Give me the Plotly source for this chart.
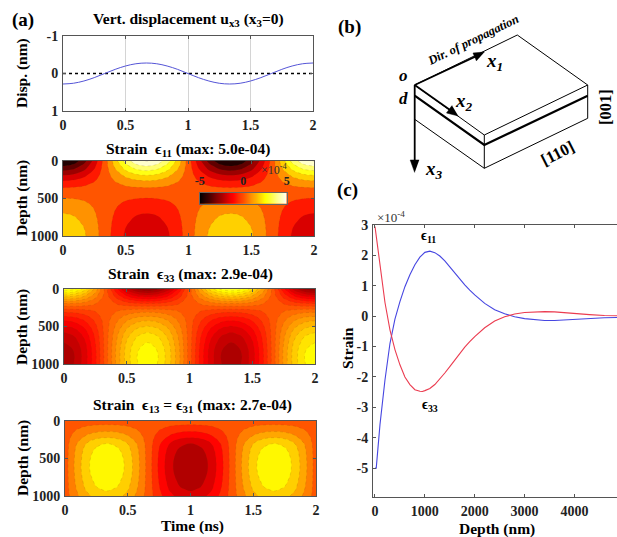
import plotly.graph_objects as go

W, H = 617, 537
SERIF = "Liberation Serif"
INK = "#222222"
AX = "#555555"

# ---------- data ----------
time_disp = [0, .083, .167, .25, .333, .417, .5, .583, .667, .75, .833, .917, 1,
             1.083, 1.167, 1.25, 1.333, 1.417, 1.5, 1.583, 1.667, 1.75, 1.833, 1.917, 2]
disp = [.28, .26, .2, .11, 0, -.11, -.2, -.26, -.28, -.26, -.2, -.11, 0,
        .11, .2, .26, .28, .26, .2, .11, 0, -.11, -.2, -.26, -.28]
disp_zero = [0, 0]
disp_zero_t = [0, 2]

time_map = time_disp
depth_map = [0, 100, 200, 300, 400, 500, 600, 700, 800, 900, 1000]

e11_map = [
    [-5, -4.62, -3.54, -1.91, 0, 1.91, 3.54, 4.62, 5, 4.62, 3.54, 1.91, 0, -1.91, -3.54, -4.62, -5, -4.62, -3.54, -1.91, 0, 1.91, 3.54, 4.62, 5],
    [-3.57, -3.3, -2.52, -1.37, 0, 1.37, 2.52, 3.3, 3.57, 3.3, 2.52, 1.37, 0, -1.37, -2.52, -3.3, -3.57, -3.3, -2.52, -1.37, 0, 1.37, 2.52, 3.3, 3.57],
    [-2.1, -1.94, -1.48, -.8, 0, .8, 1.48, 1.94, 2.1, 1.94, 1.48, .8, 0, -.8, -1.48, -1.94, -2.1, -1.94, -1.48, -.8, 0, .8, 1.48, 1.94, 2.1],
    [-.9, -.83, -.64, -.34, 0, .34, .64, .83, .9, .83, .64, .34, 0, -.34, -.64, -.83, -.9, -.83, -.64, -.34, 0, .34, .64, .83, .9],
    [-.1, -.09, -.07, -.04, 0, .04, .07, .09, .1, .09, .07, .04, 0, -.04, -.07, -.09, -.1, -.09, -.07, -.04, 0, .04, .07, .09, .1],
    [.48, .44, .34, .18, 0, -.18, -.34, -.44, -.48, -.44, -.34, -.18, 0, .18, .34, .44, .48, .44, .34, .18, 0, -.18, -.34, -.44, -.48],
    [.97, .9, .69, .37, 0, -.37, -.69, -.9, -.97, -.9, -.69, -.37, 0, .37, .69, .9, .97, .9, .69, .37, 0, -.37, -.69, -.9, -.97],
    [1.36, 1.26, .96, .52, 0, -.52, -.96, -1.26, -1.36, -1.26, -.96, -.52, 0, .52, .96, 1.26, 1.36, 1.26, .96, .52, 0, -.52, -.96, -1.26, -1.36],
    [1.69, 1.56, 1.19, .65, 0, -.65, -1.19, -1.56, -1.69, -1.56, -1.19, -.65, 0, .65, 1.19, 1.56, 1.69, 1.56, 1.19, .65, 0, -.65, -1.19, -1.56, -1.69],
    [1.94, 1.79, 1.37, .74, 0, -.74, -1.37, -1.79, -1.94, -1.79, -1.37, -.74, 0, .74, 1.37, 1.79, 1.94, 1.79, 1.37, .74, 0, -.74, -1.37, -1.79, -1.94],
    [2.1, 1.94, 1.48, .8, 0, -.8, -1.48, -1.94, -2.1, -1.94, -1.48, -.8, 0, .8, 1.48, 1.94, 2.1, 1.94, 1.48, .8, 0, -.8, -1.48, -1.94, -2.1],
]
e33_map = [
    [2.95, 2.72, 2.09, 1.13, 0, -1.13, -2.09, -2.72, -2.95, -2.72, -2.09, -1.13, 0, 1.13, 2.09, 2.72, 2.95, 2.72, 2.09, 1.13, 0, -1.13, -2.09, -2.72, -2.95],
    [1.65, 1.52, 1.17, .63, 0, -.63, -1.17, -1.52, -1.65, -1.52, -1.17, -.63, 0, .63, 1.17, 1.52, 1.65, 1.52, 1.17, .63, 0, -.63, -1.17, -1.52, -1.65],
    [.45, .42, .32, .17, 0, -.17, -.32, -.42, -.45, -.42, -.32, -.17, 0, .17, .32, .42, .45, .42, .32, .17, 0, -.17, -.32, -.42, -.45],
    [-.45, -.42, -.32, -.17, 0, .17, .32, .42, .45, .42, .32, .17, 0, -.17, -.32, -.42, -.45, -.42, -.32, -.17, 0, .17, .32, .42, .45],
    [-1.1, -1.02, -.78, -.42, 0, .42, .78, 1.02, 1.1, 1.02, .78, .42, 0, -.42, -.78, -1.02, -1.1, -1.02, -.78, -.42, 0, .42, .78, 1.02, 1.1],
    [-1.6, -1.48, -1.14, -.61, 0, .61, 1.14, 1.48, 1.6, 1.48, 1.14, .61, 0, -.61, -1.14, -1.48, -1.6, -1.48, -1.14, -.61, 0, .61, 1.14, 1.48, 1.6],
    [-2, -1.85, -1.42, -.77, 0, .77, 1.42, 1.85, 2, 1.85, 1.42, .77, 0, -.77, -1.42, -1.85, -2, -1.85, -1.42, -.77, 0, .77, 1.42, 1.85, 2],
    [-2.25, -2.08, -1.6, -.86, 0, .86, 1.6, 2.08, 2.25, 2.08, 1.6, .86, 0, -.86, -1.6, -2.08, -2.25, -2.08, -1.6, -.86, 0, .86, 1.6, 2.08, 2.25],
    [-2.42, -2.24, -1.72, -.93, 0, .93, 1.72, 2.24, 2.42, 2.24, 1.72, .93, 0, -.93, -1.72, -2.24, -2.42, -2.24, -1.72, -.93, 0, .93, 1.72, 2.24, 2.42],
    [-2.47, -2.28, -1.75, -.95, 0, .95, 1.75, 2.28, 2.47, 2.28, 1.75, .95, 0, -.95, -1.75, -2.28, -2.47, -2.28, -1.75, -.95, 0, .95, 1.75, 2.28, 2.47],
    [-2.45, -2.26, -1.74, -.94, 0, .94, 1.74, 2.26, 2.45, 2.26, 1.74, .94, 0, -.94, -1.74, -2.26, -2.45, -2.26, -1.74, -.94, 0, .94, 1.74, 2.26, 2.45],
]
e13_map = [
    [0, 0, 0, 0, 0, 0, 0, 0, 0, 0, 0, 0, 0, 0, 0, 0, 0, 0, 0, 0, 0, 0, 0, 0, 0],
    [0, .23, .43, .55, .6, .55, .43, .23, 0, -.23, -.43, -.55, -.6, -.55, -.43, -.23, 0, .23, .43, .55, .6, .55, .43, .23, 0],
    [0, .51, .94, 1.23, 1.33, 1.23, .94, .51, 0, -.51, -.94, -1.23, -1.33, -1.23, -.94, -.51, 0, .51, .94, 1.23, 1.33, 1.23, .94, .51, 0],
    [0, .8, 1.49, 1.94, 2.1, 1.94, 1.49, .8, 0, -.8, -1.49, -1.94, -2.1, -1.94, -1.49, -.8, 0, .8, 1.49, 1.94, 2.1, 1.94, 1.49, .8, 0],
    [0, .94, 1.74, 2.26, 2.45, 2.26, 1.74, .94, 0, -.94, -1.74, -2.26, -2.45, -2.26, -1.74, -.94, 0, .94, 1.74, 2.26, 2.45, 2.26, 1.74, .94, 0],
    [0, 1, 1.86, 2.42, 2.62, 2.42, 1.86, 1, 0, -1, -1.86, -2.42, -2.62, -2.42, -1.86, -1, 0, 1, 1.86, 2.42, 2.62, 2.42, 1.86, 1, 0],
    [0, 1.03, 1.9, 2.48, 2.68, 2.48, 1.9, 1.03, 0, -1.03, -1.9, -2.48, -2.68, -2.48, -1.9, -1.03, 0, 1.03, 1.9, 2.48, 2.68, 2.48, 1.9, 1.03, 0],
    [0, 1, 1.86, 2.42, 2.62, 2.42, 1.86, 1, 0, -1, -1.86, -2.42, -2.62, -2.42, -1.86, -1, 0, 1, 1.86, 2.42, 2.62, 2.42, 1.86, 1, 0],
    [0, .94, 1.74, 2.26, 2.45, 2.26, 1.74, .94, 0, -.94, -1.74, -2.26, -2.45, -2.26, -1.74, -.94, 0, .94, 1.74, 2.26, 2.45, 2.26, 1.74, .94, 0],
    [0, .85, 1.58, 2.05, 2.22, 2.05, 1.58, .85, 0, -.85, -1.58, -2.05, -2.22, -2.05, -1.58, -.85, 0, .85, 1.58, 2.05, 2.22, 2.05, 1.58, .85, 0],
    [0, .71, 1.31, 1.71, 1.85, 1.71, 1.31, .71, 0, -.71, -1.31, -1.71, -1.85, -1.71, -1.31, -.71, 0, .71, 1.31, 1.71, 1.85, 1.71, 1.31, .71, 0],
]

cbar_values = [-5, -4.5, -4, -3.5, -3, -2.5, -2, -1.5, -1, -.5, 0, .5, 1, 1.5, 2, 2.5, 3, 3.5, 4, 4.5, 5]

depth_blue = [0, 25, 100, 200, 300, 400, 500, 600, 700, 800, 900, 1000, 1100, 1200, 1300, 1400, 1500,
              1600, 1700, 1800, 1900, 2000, 2200, 2400, 2600, 2800, 3000, 3200, 3400, 3600, 3800,
              4000, 4300, 4600, 4900]
e11_line = [-5, -5, -3.57, -2.1, -.9, -.1, .48, .97, 1.36, 1.69, 1.94, 2.1, 2.14, 2.09, 1.98, 1.82, 1.62,
            1.42, 1.22, 1.03, .86, .7, .42, .21, .08, -.02, -.08, -.12, -.14, -.14, -.12,
            -.1, -.07, -.05, -.04]
depth_red = [0, 50, 100, 200, 300, 400, 500, 600, 700, 800, 900, 950, 1000, 1100, 1200, 1300, 1400, 1500,
             1600, 1700, 1800, 1900, 2000, 2200, 2400, 2600, 2800, 3000, 3200, 3400, 3600, 3800,
             4000, 4300, 4600, 4900]
e33_line = [2.95, 2.3, 1.65, .45, -.45, -1.1, -1.6, -2, -2.25, -2.42, -2.47, -2.48, -2.45, -2.38, -2.25,
            -2.07, -1.87, -1.66, -1.44, -1.23, -1.02, -.84, -.67, -.38, -.16, -.02, .07, .12, .14, .15,
            .14, .11, .09, .05, .02, .01]

# schematic (panel b), in page pixels
box_thin = [
    ([414.7, 517.3, 587.7, 484.3, 414.7], [85, 35, 85, 135, 85]),
    ([414.7, 484.3, 587.7, 587.7], [119.3, 168.3, 118.3, 85]),
    ([484.3, 484.3], [135, 168.3]),
]
box_thick = ([414.7, 484.3, 587.7], [95.7, 145, 95.7])
axis_lines = [
    ([414.7, 480], [85, 54.5]),
    ([414.7, 455], [85, 113.5]),
    ([414.7, 414.7], [85, 162]),
]
arrow_heads = [
    ([484.5, 473, 476.5], [52, 53, 61]),
    ([458.3, 446.5, 452], [116, 113, 105.5]),
    ([414.7, 410.2, 419.2], [172.5, 160, 160]),
]

hot = [[0, "rgb(0,0,0)"], [.375, "rgb(255,0,0)"], [.75, "rgb(255,255,0)"], [1, "rgb(255,255,255)"]]


def hot_at(v):
    """MATLAB hot colour for a strain value in units of 1e-4, range -5..5."""
    u = min(1, max(0, (v + 5) / 10))
    r = min(1, u / .375)
    g = min(1, max(0, (u - .375) / .375))
    b = max(0, (u - .75) / .25)
    return f"rgb({r * 255:.0f},{g * 255:.0f},{b * 255:.0f})"


def hot_window(lo, hi, n=40):
    """Plotly stretches a contour colour scale over its levels, so cut it to that window."""
    return [[i / n, hot_at(lo + (hi - lo) * i / n)] for i in range(n + 1)]


fig = go.Figure()


def dom(x0, x1, y0, y1):
    return dict(x=[x0 / W, x1 / W], y=[1 - y1 / H, 1 - y0 / H])


tick_font = dict(family=SERIF, size=14, color=INK, weight=700)


def add_axes(n, box, xr, yr, xticks, xtext, yticks, ytext, mirror_y=True, grid=False):
    d = dom(*box)
    xa = dict(domain=d["x"], range=xr, tickmode="array", tickvals=xticks, ticktext=xtext,
              ticks="inside", ticklen=3, tickcolor=AX, tickwidth=1, showline=True, linecolor=AX,
              linewidth=1, mirror="allticks", showgrid=grid, gridcolor="#d4d4d4", gridwidth=1,
              zeroline=False, tickfont=tick_font, anchor=f"y{n}", ticklabelstandoff=1)
    ya = dict(domain=d["y"], range=yr, tickmode="array", tickvals=yticks, ticktext=ytext,
              ticks="inside", ticklen=3, tickcolor=AX, tickwidth=1, showline=True, linecolor=AX,
              linewidth=1, mirror="allticks" if mirror_y else False, showgrid=False, zeroline=False,
              tickfont=tick_font, anchor=f"x{n}", ticklabelstandoff=1)
    fig.layout[f"xaxis{n}"] = xa
    fig.layout[f"yaxis{n}"] = ya


t_ticks, t_text = [0, .5, 1, 1.5, 2], ["0", "0.5", "1", "1.5", "2"]
d_ticks, d_text = [0, 500, 1000], ["0", "500", "1000"]

# panel a1
add_axes(1, (63, 313, 36, 111), [0, 2], [1, -1], t_ticks, t_text, [-1, 0, 1], ["-1", "0", "1"], grid=True)
fig.add_trace(go.Scatter(x=disp_zero_t, y=disp_zero, mode="lines", xaxis="x1", yaxis="y1",
                         line=dict(color="black", width=1.5, dash="dot")))
fig.add_trace(go.Scatter(x=time_disp, y=disp, mode="lines", xaxis="x1", yaxis="y1",
                         line=dict(color="rgb(85,85,215)", width=1, shape="spline")))

# contour maps
maps = [
    (2, (63, 314, 161, 236), e11_map, -4.95, 4.95, .9),
    (3, (64, 315, 289, 364), e33_map, -3.325, 3.325, .35),
    (4, (65, 316, 421, 496), e13_map, -2.7, 2.7, .6),
]
for n, box, z, s, e, step in maps:
    add_axes(n, box, [0, 2], [1000, 0], t_ticks, t_text, d_ticks, d_text)
    fig.add_trace(go.Contour(x=time_map, y=depth_map, z=z, xaxis=f"x{n}", yaxis=f"y{n}",
                             colorscale=hot_window(s - step / 2, e + step / 2), showscale=False,
                             autocontour=False,
                             contours=dict(start=s, end=e, size=step, coloring="fill", showlines=True),
                             line=dict(width=.5, color="rgba(120,60,0,0.3)", dash="dot", smoothing=1.1)))

# inset colour bar
d = dom(199.7, 286.7, 192.7, 204)
fig.layout["xaxis5"] = dict(domain=d["x"], range=[-5, 5], side="top", anchor="y5", tickmode="array",
                            tickvals=[-5, 0, 5], ticktext=["-5", "0", "5"], ticks="", showline=True,
                            linecolor="#666666", mirror=True, showgrid=False, zeroline=False,
                            tickfont=dict(family=SERIF, size=12, color=INK, weight=700), ticklabelstandoff=2)
fig.layout["yaxis5"] = dict(domain=d["y"], range=[0, 1], anchor="x5", showticklabels=False, ticks="",
                            showline=True, linecolor="#666666", mirror=True, showgrid=False, zeroline=False)
fig.add_trace(go.Heatmap(x=cbar_values, y=[0, 1], z=[cbar_values, cbar_values], xaxis="x5", yaxis="y5",
                         colorscale=hot, zmin=-5, zmax=5, showscale=False, zsmooth="best"))

# panel c
add_axes(6, (373, 617, 225, 497), [-40, 4853], [-5.95, 3], [0, 1000, 2000, 3000, 4000],
         ["0", "1000", "2000", "3000", "4000"], [3, 2, 1, 0, -1, -2, -3, -4, -5],
         ["3", "2", "1", "0", "-1", "-2", "-3", "-4", "-5"], mirror_y=False)
fig.add_trace(go.Scatter(x=depth_blue, y=e11_line, mode="lines", xaxis="x6", yaxis="y6",
                         line=dict(color="rgb(70,70,225)", width=1.1)))
fig.add_trace(go.Scatter(x=depth_red, y=e33_line, mode="lines", xaxis="x6", yaxis="y6",
                         line=dict(color="rgb(235,60,80)", width=1.1)))

# overlay in page pixels: schematic
fig.layout["xaxis7"] = dict(domain=[0, 1], range=[0, W], visible=False, anchor="y7", fixedrange=True)
fig.layout["yaxis7"] = dict(domain=[0, 1], range=[H, 0], visible=False, anchor="x7", fixedrange=True)
for xs, ys in box_thin:
    fig.add_trace(go.Scatter(x=xs, y=ys, mode="lines", xaxis="x7", yaxis="y7", line=dict(color="black", width=1)))
fig.add_trace(go.Scatter(x=box_thick[0], y=box_thick[1], mode="lines", xaxis="x7", yaxis="y7",
                         line=dict(color="black", width=2.2)))
for xs, ys in axis_lines:
    fig.add_trace(go.Scatter(x=xs, y=ys, mode="lines", xaxis="x7", yaxis="y7", line=dict(color="black", width=1.8)))
for xs, ys in arrow_heads:
    fig.add_trace(go.Scatter(x=xs, y=ys, mode="lines", xaxis="x7", yaxis="y7", fill="toself", fillcolor="black",
                             line=dict(color="black", width=.5)))


def text(x, y, s, size=15.5, angle=0, color="black", italic=False):
    font = dict(family=SERIF, size=size, color=color)
    if italic:
        font["style"] = "italic"
    fig.add_annotation(xref="paper", yref="paper", x=x / W, y=1 - y / H, text=s, showarrow=False, textangle=angle,
                       xanchor="center", yanchor="middle", font=font)


text(188, 20, "<b>Vert. displacement u<sub>x3</sub> (x<sub>3</sub>=0)</b>")
text(188, 149, "<b>Strain  ϵ<sub>11</sub> (max: 5.0e-04)</b>")
text(190, 274, "<b>Strain  ϵ<sub>33</sub> (max: 2.9e-04)</b>")
text(192, 405, "<b>Strain  ϵ<sub>13</sub> = ϵ<sub>31</sub> (max: 2.7e-04)</b>")
text(192, 526, "<b>Time (ns)</b>")
text(22, 73, "<b>Disp. (nm)</b>", 15.5, -90)
text(22, 198, "<b>Depth (nm)</b>", 15.5, -90)
text(22, 327, "<b>Depth (nm)</b>", 15.5, -90)
text(23, 458, "<b>Depth (nm)</b>", 15.5, -90)
text(347, 348, "<b>Strain</b>", 15.5, -90)
text(497, 529, "<b>Depth (nm)</b>")
text(23, 20, "<b>(a)</b>", 19)
text(349, 27, "<b>(b)</b>", 19)
text(348, 190, "<b>(c)</b>", 19)
text(274, 169, "×10<sup>-4</sup>", 12, color="#333333")
text(391, 217, "×10<sup>-4</sup>", 13, color="#333333")
text(428, 237, "<b>ϵ<sub>11</sub></b>", 14)
text(430, 405, "<b>ϵ<sub>33</sub></b>", 14)
text(473, 40, "<b>Dir. of propagation</b>", 12.5, -26, italic=True)
text(403, 75, "<b>o</b>", 17, italic=True)
text(403, 99, "<b>d</b>", 17, italic=True)
text(494, 62, "<b>x<sub>1</sub></b>", 19, italic=True)
text(464, 102, "<b>x<sub>2</sub></b>", 19, italic=True)
text(434, 170, "<b>x<sub>3</sub></b>", 19, italic=True)
text(605, 107, "<b>[001]</b>", 16.5, -90)
text(557, 153, "<b>[110]</b>", 16.5, -27)

fig.update_layout(width=W, height=H, margin=dict(l=0, r=0, t=0, b=0, autoexpand=False), showlegend=False,
                  paper_bgcolor="white", plot_bgcolor="rgba(0,0,0,0)", hovermode=False)
fig.write_html("out.html", config={"displayModeBar": False},
               post_script="document.body.style.margin='0';document.body.style.overflow='hidden';")
